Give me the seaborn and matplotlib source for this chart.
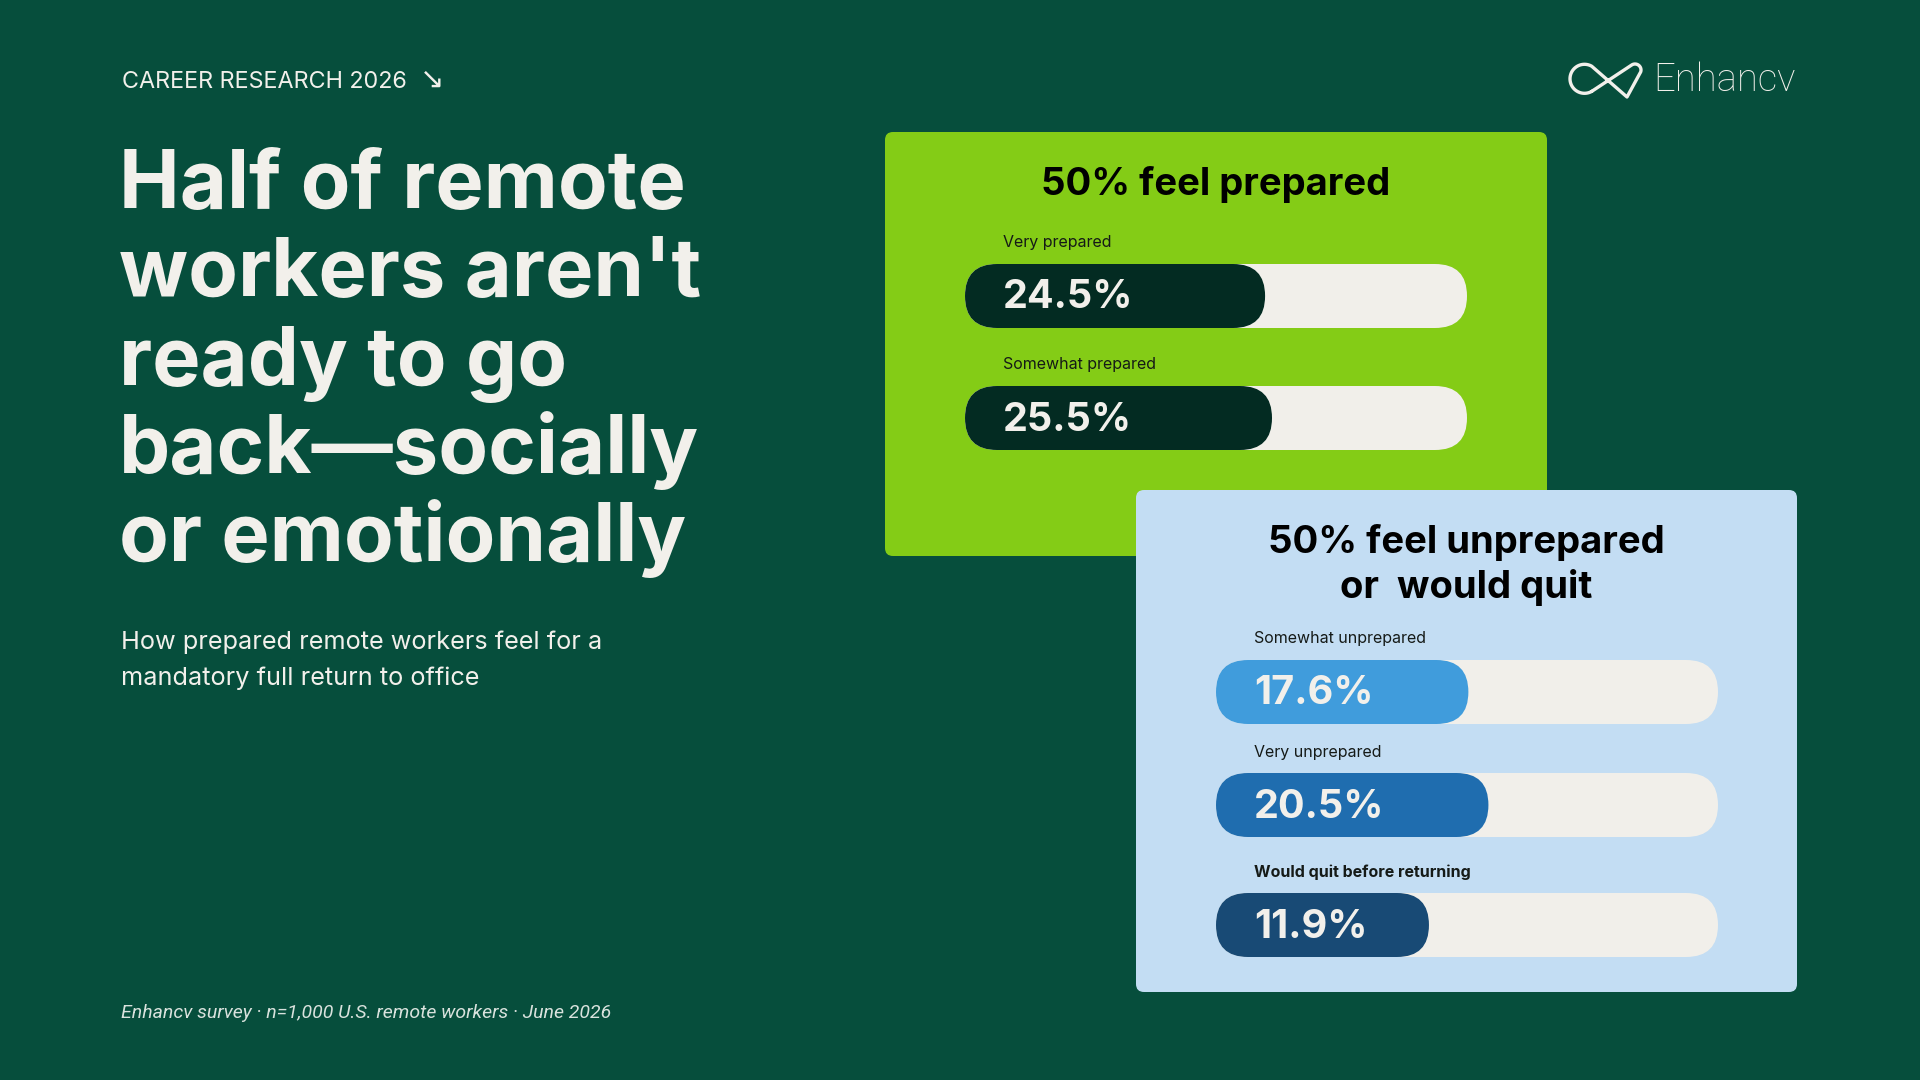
import matplotlib
matplotlib.use("Agg")
import matplotlib.pyplot as plt
from matplotlib.patches import FancyBboxPatch
import numpy as np
import pandas as pd
import seaborn as sns

# ---- data ----
prepared_labels = ["Very prepared", "Somewhat prepared"]
prepared_values = [24.5, 25.5]
unprepared_labels = ["Somewhat unprepared", "Very unprepared", "Would quit before returning"]
unprepared_values = [17.6, 20.5, 11.9]

prepared_title = ["50% feel prepared"]
unprepared_title = ["50% feel unprepared", "or  would quit"]
headline = ["Half of remote", "workers aren't", "ready to go", "back\u2014socially", "or emotionally"]
subtitle = ["How prepared remote workers feel for a", "mandatory full return to office"]
kicker = "CAREER RESEARCH 2026"
source = "Enhancv survey \u00b7 n=1,000 U.S. remote workers \u00b7 June 2026"

# ---- colours ----
BG = "#064e3c"
LIME = "#84cc16"
SKY = "#c3ddf3"
TRACK = "#f1efea"
CREAM = "#f2f0eb"
INK = "#151a17"
prepared_colors = ["#032b22", "#032b22"]
unprepared_colors = ["#409cdc", "#1f6daf", "#184a75"]

# value scale inside a pill: zero sits PAD units right of the pill start
PAD = 18.9
TRACK_END = 53.7
BAR_H = 64
W, H = 1920, 1080

sns.set_theme(style="white")
plt.rcParams["font.family"] = ["Inter", "DejaVu Sans"]

fig = plt.figure(figsize=(19.2, 10.8), dpi=100)
fig.patch.set_facecolor(BG)

bg = fig.add_axes([0, 0, 1, 1])
bg.set_xlim(0, W)
bg.set_ylim(H, 0)
bg.axis("off")


def px_axes(x0, y0, x1, y1):
    return fig.add_axes([x0 / W, 1 - y1 / H, (x1 - x0) / W, (y1 - y0) / H])


def draw_bar(x0, x1, yc, label, value, color, bold_label=False):
    ax = px_axes(x0, yc - BAR_H / 2, x1, yc + BAR_H / 2)
    df = pd.DataFrame({"answer": [label], "share": [value]})
    sns.barplot(data=df, x="share", y="answer", color=color, saturation=1,
                width=1.0, errorbar=None, ax=ax)
    ax.set_xlim(-PAD, TRACK_END)
    ax.set_ylim(0.5, -0.5)
    ax.axis("off")

    # swap the square bar for a pill, keeping the caps round in pixel space
    px_x = (x1 - x0) / (TRACK_END + PAD)
    aspect = px_x / BAR_H
    style = f"round,pad=0,rounding_size={(BAR_H / 2) / px_x}"
    rect = ax.patches[0]
    y0, h = rect.get_y(), rect.get_height()
    end = rect.get_x() + rect.get_width()
    rect.remove()
    ax.add_patch(FancyBboxPatch((-PAD, y0), TRACK_END + PAD, h, boxstyle=style,
                                mutation_aspect=aspect, fc=TRACK, ec="none", zorder=1))
    ax.add_patch(FancyBboxPatch((-PAD, y0), end + PAD, h, boxstyle=style,
                                mutation_aspect=aspect, fc=color, ec="none", zorder=2))
    ax.annotate(f"{value}%", xy=(-PAD, 0), xytext=(38, -2), textcoords="offset pixels",
                ha="left", va="center", color=CREAM, fontsize=28.5, fontweight="bold", zorder=3)

    bg.text(x0 + 38, yc - BAR_H / 2 - 21, label, ha="left", va="center", color=INK,
            fontsize=11.5, fontweight="bold" if bold_label else "normal")


# ---- panels ----
bg.add_patch(FancyBboxPatch((885, 132), 662, 424, boxstyle="round,pad=0,rounding_size=8",
                            fc=LIME, ec="none", zorder=1))
bg.add_patch(FancyBboxPatch((1136, 490), 661, 502, boxstyle="round,pad=0,rounding_size=8",
                            fc=SKY, ec="none", zorder=2))

bg.text(1216, 195, prepared_title[0], ha="center", va="baseline", color="black",
        fontsize=27.5, fontweight="bold", zorder=3)
for line, yb in zip(unprepared_title, [553, 598]):
    bg.text(1466, yb, line, ha="center", va="baseline", color="black",
            fontsize=27.5, fontweight="bold", zorder=3)

green_centers = [296, 418]
for yc, lab, val, col in zip(green_centers, prepared_labels, prepared_values, prepared_colors):
    draw_bar(965, 1467, yc, lab, val, col)

blue_centers = [692, 805, 925]
for i, (yc, lab, val, col) in enumerate(zip(blue_centers, unprepared_labels,
                                            unprepared_values, unprepared_colors)):
    draw_bar(1216, 1718, yc, lab, val, col, bold_label=(i == 2))

# ---- left column text ----
bg.text(122, 88, kicker, ha="left", va="baseline", color=CREAM, fontsize=16.8)
bg.text(420, 88, "\u2198", ha="left", va="baseline", color=CREAM, fontsize=21,
        family=["DejaVu Sans"])

for line, yb in zip(headline, [208, 296, 385, 473, 561]):
    bg.text(119, yb, line, ha="left", va="baseline", color=CREAM,
            fontsize=58.5, fontweight="bold")

for line, yb in zip(subtitle, [649, 685]):
    bg.text(121, yb, line, ha="left", va="baseline", color=CREAM, fontsize=18.2)

bg.text(121, 1018, source, ha="left", va="baseline", color="#d9e2dd",
        fontsize=14, fontstyle="italic", family=["Roboto", "DejaVu Sans"])

# ---- logo ----
cx, cy, r = 1584.5, 78.8, 14.5
th = np.radians(np.linspace(60, 300, 60))
loop = np.column_stack([cx + r * np.cos(th), cy + r * np.sin(th)])
lc, lr = (1635.0, 70.0), 6.0
tl = np.radians(np.linspace(18, -125, 20))
lobe = np.column_stack([lc[0] + lr * np.cos(tl), lc[1] + lr * np.sin(tl)])
pts = np.vstack([loop, [[1627, 97]], lobe, loop[:1]])
bg.plot(pts[:, 0], pts[:, 1], color=CREAM, lw=2.4,
        solid_joinstyle="round", solid_capstyle="round")
bg.text(1653, 91, "Enhancv", ha="left", va="baseline", color=CREAM,
        fontsize=27.5, fontweight="light", family=["Roboto", "DejaVu Sans"])

fig.savefig("out.png", dpi=100, facecolor=BG)
